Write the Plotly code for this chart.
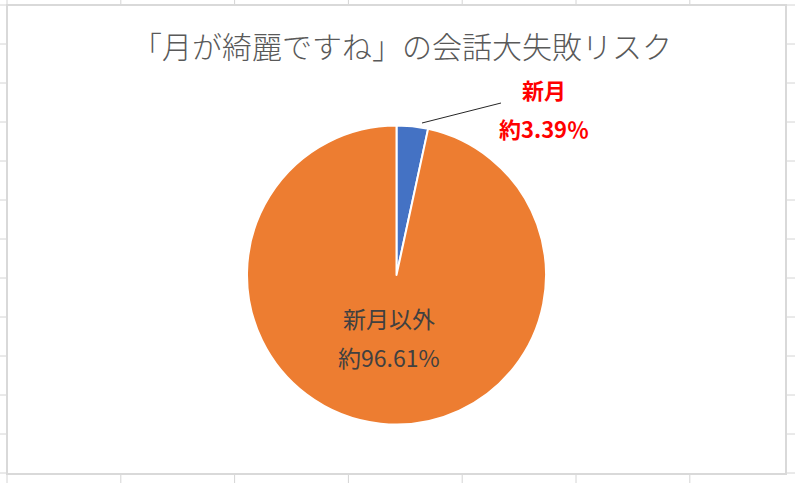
import plotly.graph_objects as go

W, H = 795, 483

title = "「月が綺麗ですね」の会話大失敗リスク"
labels = ["新月", "新月以外"]
values = [3.39, 96.61]
colors = ["#4472C4", "#ED7D31"]

def px(x):
    return x / W

def py(y):
    return 1 - y / H

FONT = "Noto Sans CJK JP"

fig = go.Figure()

cx, cy, r = 396.5, 275.0, 149.5
fig.add_trace(go.Pie(
    labels=labels, values=values, sort=False, direction="clockwise", rotation=0,
    marker=dict(colors=colors, line=dict(color="white", width=2)),
    textinfo="none", hoverinfo="label+percent", showlegend=False,
    domain=dict(x=[px(cx - r), px(cx + r)], y=[py(cy + r), py(cy - r)]),
))

shapes = []
# spreadsheet grid behind the chart
col_x = [7 + 113.8 * k for k in range(-1, 8)]
row_y = [5 + 39 * k for k in range(-1, 13)]
for x in col_x:
    shapes.append(dict(type="line", xref="paper", yref="paper", x0=px(x), x1=px(x), y0=0, y1=1,
                       line=dict(color="#d4d4d4", width=1), layer="below"))
for y in row_y:
    shapes.append(dict(type="line", xref="paper", yref="paper", x0=0, x1=1, y0=py(y), y1=py(y),
                       line=dict(color="#d4d4d4", width=1), layer="below"))
# chart area
shapes.append(dict(type="rect", xref="paper", yref="paper", x0=px(7), x1=px(786), y0=py(474), y1=py(5),
                   fillcolor="white", line=dict(color="#d9d9d9", width=2), layer="below"))
# leader line
shapes.append(dict(type="line", xref="paper", yref="paper", x0=px(422), y0=py(123), x1=px(501), y1=py(103),
                   line=dict(color="#262626", width=1)))

total = sum(values)
pct = [v / total * 100 for v in values]

annotations = [
    dict(text=title, x=px(401.5), y=py(45), xref="paper", yref="paper", showarrow=False,
         font=dict(family=FONT, size=30, color="#595959", weight=300), xanchor="center", yanchor="middle"),
    dict(text=f"<b>{labels[0]}</b>", x=px(544), y=py(89), xref="paper", yref="paper", showarrow=False,
         font=dict(family=FONT, size=22, color="#FF0000"), xanchor="center", yanchor="middle"),
    dict(text=f"<b>約{pct[0]:.2f}％</b>", x=px(544), y=py(128), xref="paper", yref="paper", showarrow=False,
         font=dict(family=FONT, size=22, color="#FF0000"), xanchor="center", yanchor="middle"),
    dict(text=labels[1], x=px(389), y=py(318), xref="paper", yref="paper", showarrow=False,
         font=dict(family=FONT, size=23, color="#404040"), xanchor="center", yanchor="middle"),
    dict(text=f"約{pct[1]:.2f}%", x=px(389), y=py(357), xref="paper", yref="paper", showarrow=False,
         font=dict(family=FONT, size=23, color="#404040"), xanchor="center", yanchor="middle"),
]

fig.update_layout(
    width=W, height=H, margin=dict(l=0, r=0, t=0, b=0),
    paper_bgcolor="white", plot_bgcolor="white",
    shapes=shapes, annotations=annotations,
)

fig.write_html("out.html")
